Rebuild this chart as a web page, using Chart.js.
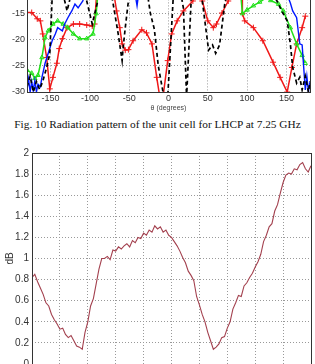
<!DOCTYPE html>
<html>
<head>
<meta charset="utf-8">
<script src="https://cdn.jsdelivr.net/npm/chart.js"></script>
<style>
  html, body { margin: 0; padding: 0; background: #fff; overflow: hidden; }
  body { width: 315px; height: 364px; position: relative; }
  canvas { position: absolute; left: 0; }
  #caption {
    position: absolute; left: 0; width: 315px; top: 118px;
    text-align: center; font-family: "Liberation Serif", serif;
    font-size: 11.3px; color: #111; white-space: nowrap;
  }
</style>
</head>
<body>
<canvas id="pattern" width="315" height="132" style="top:-20px"></canvas>
<div id="caption">Fig. 10 Radiation pattern of the unit cell for LHCP at 7.25 GHz</div>
<canvas id="ripple" width="315" height="244" style="top:140px"></canvas>
<script>
// radiation pattern (upper part is cut off in the figure)
const thetaTicks = [-150, -100, -50, 0, 50, 100, 150];
const dbTicks = [-30, -25, -20, -15, -10];

const redTheta = [-180,-174,-167,-163,-160,-155,-151,-147,-142,-139,-135,-129,-121,-113,-104,-97,-94,-90,-75,-66,-62,-59,-55,-51,-45,-34,-28,-21,-15,-11,-7,-1,4,11,19,31,37,43,50,57,61,68,76,85,94,94,97,108,120,133,142,151,157,163,170,174];
const redDb = [-14.8,-14.8,-16,-16.4,-18.9,-23.4,-29.4,-27.2,-24.5,-21.7,-19.8,-17.7,-17,-17,-17.2,-17.4,-17,-8,-6,-14.5,-17.7,-20.8,-22,-21.9,-20.2,-18.1,-18.7,-20.8,-27.2,-31,-31,-24,-18.9,-16.4,-14.5,-12.6,-8,-12.6,-16.4,-17.7,-17,-14.9,-12.6,-8,-8,-15,-16.4,-17.7,-20.2,-24.3,-27.2,-30,-25.3,-20.8,-17.7,-15.5];

const blueTheta = [-180,-178,-176,-174,-172,-170,-168,-166,-163,-161,-157,-153,-148,-144,-141,-135,-132,-128,-123,-119,-115,-109,-100,-45,-40,-36,140,150,155,158,163,167,170,172,174,176,178,180];
const blueDb = [-29.6,-27.5,-30,-28,-29.8,-27.8,-30,-28.5,-29,-27.2,-24.5,-22.6,-20.2,-18.9,-17.7,-18.3,-17,-15.8,-14.5,-13.2,-13.9,-12.6,-8,-9,-13.5,-9,-8,-11,-13,-14.5,-15.8,-20.8,-21,-25.3,-29.6,-27,-30,-28];

const blackTheta = [-180,-176,-172,-168,-164,-160,-155,-151,-148,-145,-138,-132,-129,-126,-120,-112,-104,-97,-90,-85,-78,-71,-64,-59,-58,-55,-51,-45,-30,-23,-18,-13,-7,-1,6,12,19,23,29,36,43,51,56,60,65,72,90,120,138,144,151,155,158,163,167,170,174,178,180];
const blackDb = [-29,-27,-30,-28,-29.5,-28,-25.3,-22.6,-12,-8,-8,-12.6,-14.5,-12.6,-8,-8,-12.6,-17,-12.6,-8,-8,-12.6,-18.9,-24,-22,-17.7,-12.6,-8,-8,-15,-18,-25,-30,-31,-12,-8,-14,-31,-12,-8,-12.6,-22,-21,-22.6,-21,-12.6,-8,-8,-12.6,-14.5,-16.4,-20.8,-25.3,-28.3,-27.2,-29.6,-27,-30,-28];

const greenTheta = [-180,-174,-170,-166,-161,-157,-153,-147,-141,-134,-128,-121,-113,-104,-96,-92,-88,90,94,100,108,116,124,130,140,146,155,163,170,174];
const greenDb = [-25.8,-26.4,-27.4,-26.8,-23.4,-19.6,-18.3,-17,-16.4,-17,-17.7,-18.9,-19.8,-19.8,-18.9,-15,-8,-8,-15,-14.3,-13.5,-12.8,-12,-12.5,-13.2,-14.5,-17.7,-20.8,-23,-24.5];

// second figure: dB curve
const rippleStep = [0,1,2,3,4,5,6,7,8,9,10];
const rippleTicks = [0,0.2,0.4,0.6,0.8,1,1.2,1.4,1.6,1.8,2];
const rippleDb = [
  0.82,0.85,0.78,0.72,0.66,0.58,0.55,0.47,0.42,0.38,
  0.33,0.34,0.28,0.25,0.27,0.22,0.17,0.16,0.14,0.30,
  0.40,0.55,0.62,0.76,0.90,1.00,1.00,1.02,0.99,1.08,
  1.07,1.11,1.09,1.12,1.14,1.11,1.17,1.15,1.20,1.19,
  1.24,1.22,1.27,1.25,1.31,1.28,1.30,1.25,1.27,1.22,
  1.20,1.16,1.12,1.07,1.01,0.96,0.88,0.84,0.79,0.64,
  0.56,0.47,0.40,0.30,0.22,0.14,0.16,0.19,0.25,0.26,
  0.34,0.40,0.52,0.58,0.65,0.64,0.74,0.77,0.82,0.86,
  0.92,0.97,1.04,1.16,1.22,1.30,1.33,1.45,1.51,1.62,
  1.72,1.79,1.81,1.80,1.85,1.84,1.89,1.91,1.85,1.82,1.88
];

const pairs = (xs, ys) => xs.map((x, i) => ({ x: x, y: ys[i] }));

const frame = {
  id: 'frame',
  afterDraw(chart) {
    const a = chart.chartArea, c = chart.ctx;
    c.save();
    c.strokeStyle = '#333';
    c.lineWidth = 1;
    c.strokeRect(Math.round(a.left) + 0.5, Math.round(a.top) + 0.5,
      Math.round(a.right - a.left), Math.round(a.bottom - a.top));
    c.restore();
  }
};

const tickFont = { family: 'Liberation Sans, Arial, sans-serif', size: 9 };

new Chart(document.getElementById('pattern'), {
  type: 'line',
  data: {
    datasets: [
      { data: pairs(blackTheta, blackDb), borderColor: '#000', borderWidth: 1.7, borderDash: [4, 3], pointRadius: 0 },
      { data: pairs(blueTheta, blueDb), borderColor: '#0018ff', borderWidth: 1.4, pointRadius: 0 },
      { data: pairs(greenTheta, greenDb), borderColor: '#22e01a', borderWidth: 1.5, pointStyle: 'triangle', pointRadius: 2.5, pointBorderColor: '#22e01a', pointBackgroundColor: 'rgba(0,0,0,0)', pointBorderWidth: 1 },
      { data: pairs(redTheta, redDb), borderColor: '#f01818', borderWidth: 1.5, pointStyle: 'cross', pointRadius: 3, pointBorderColor: '#f01818', pointBorderWidth: 1 }
    ]
  },
  options: {
    responsive: false,
    animation: false,
    layout: { padding: { top: 6, right: 5, bottom: 0, left: 0 } },
    plugins: { legend: { display: false }, tooltip: { enabled: false } },
    scales: {
      x: {
        type: 'linear', min: -180, max: 180,
        afterBuildTicks: s => { s.ticks = thetaTicks.map(v => ({ value: v })); },
        afterFit: s => { s.height = 20; },
        grid: { color: '#999', drawTicks: false },
        border: { display: false, dash: [1, 2] },
        ticks: { font: tickFont, color: '#333', padding: 1, maxRotation: 0 },
        title: { display: true, text: 'θ (degrees)', font: { family: 'Liberation Sans, Arial, sans-serif', size: 7 }, color: '#444', padding: 0 }
      },
      y: {
        min: -30, max: -10,
        afterBuildTicks: s => { s.ticks = dbTicks.map(v => ({ value: v })); },
        afterFit: s => { s.width = 27; },
        grid: { color: '#999', drawTicks: false },
        border: { display: false, dash: [1, 2] },
        ticks: { font: tickFont, color: '#333', padding: 2 }
      }
    }
  },
  plugins: [frame]
});

new Chart(document.getElementById('ripple'), {
  type: 'line',
  data: {
    datasets: [
      { data: rippleDb.map((v, i) => ({ x: i / 10, y: v })), borderColor: '#a3404e', borderWidth: 1.1, pointRadius: 0 }
    ]
  },
  options: {
    responsive: false,
    animation: false,
    layout: { padding: { top: 13, right: 4, bottom: 0, left: 0 } },
    plugins: { legend: { display: false }, tooltip: { enabled: false } },
    scales: {
      x: {
        type: 'linear', min: 0, max: 10,
        afterBuildTicks: s => { s.ticks = rippleStep.map(v => ({ value: v })); },
        afterFit: s => { s.height = 20; },
        grid: { color: '#999', drawTicks: false },
        border: { display: false, dash: [1, 2] },
        ticks: { display: false }
      },
      y: {
        min: 0, max: 2,
        afterBuildTicks: s => { s.ticks = rippleTicks.map(v => ({ value: v })); },
        afterFit: s => { s.width = 32; },
        grid: { color: '#999', drawTicks: false },
        border: { display: false, dash: [1, 2] },
        ticks: { font: { family: 'Liberation Sans, Arial, sans-serif', size: 10 }, color: '#333', padding: 3, callback: v => String(+v.toFixed(1)) },
        title: { display: true, text: 'dB', font: { family: 'Liberation Sans, Arial, sans-serif', size: 10 }, color: '#333', padding: { top: 4, bottom: 0 } }
      }
    }
  },
  plugins: [frame]
});
</script>
</body>
</html>
